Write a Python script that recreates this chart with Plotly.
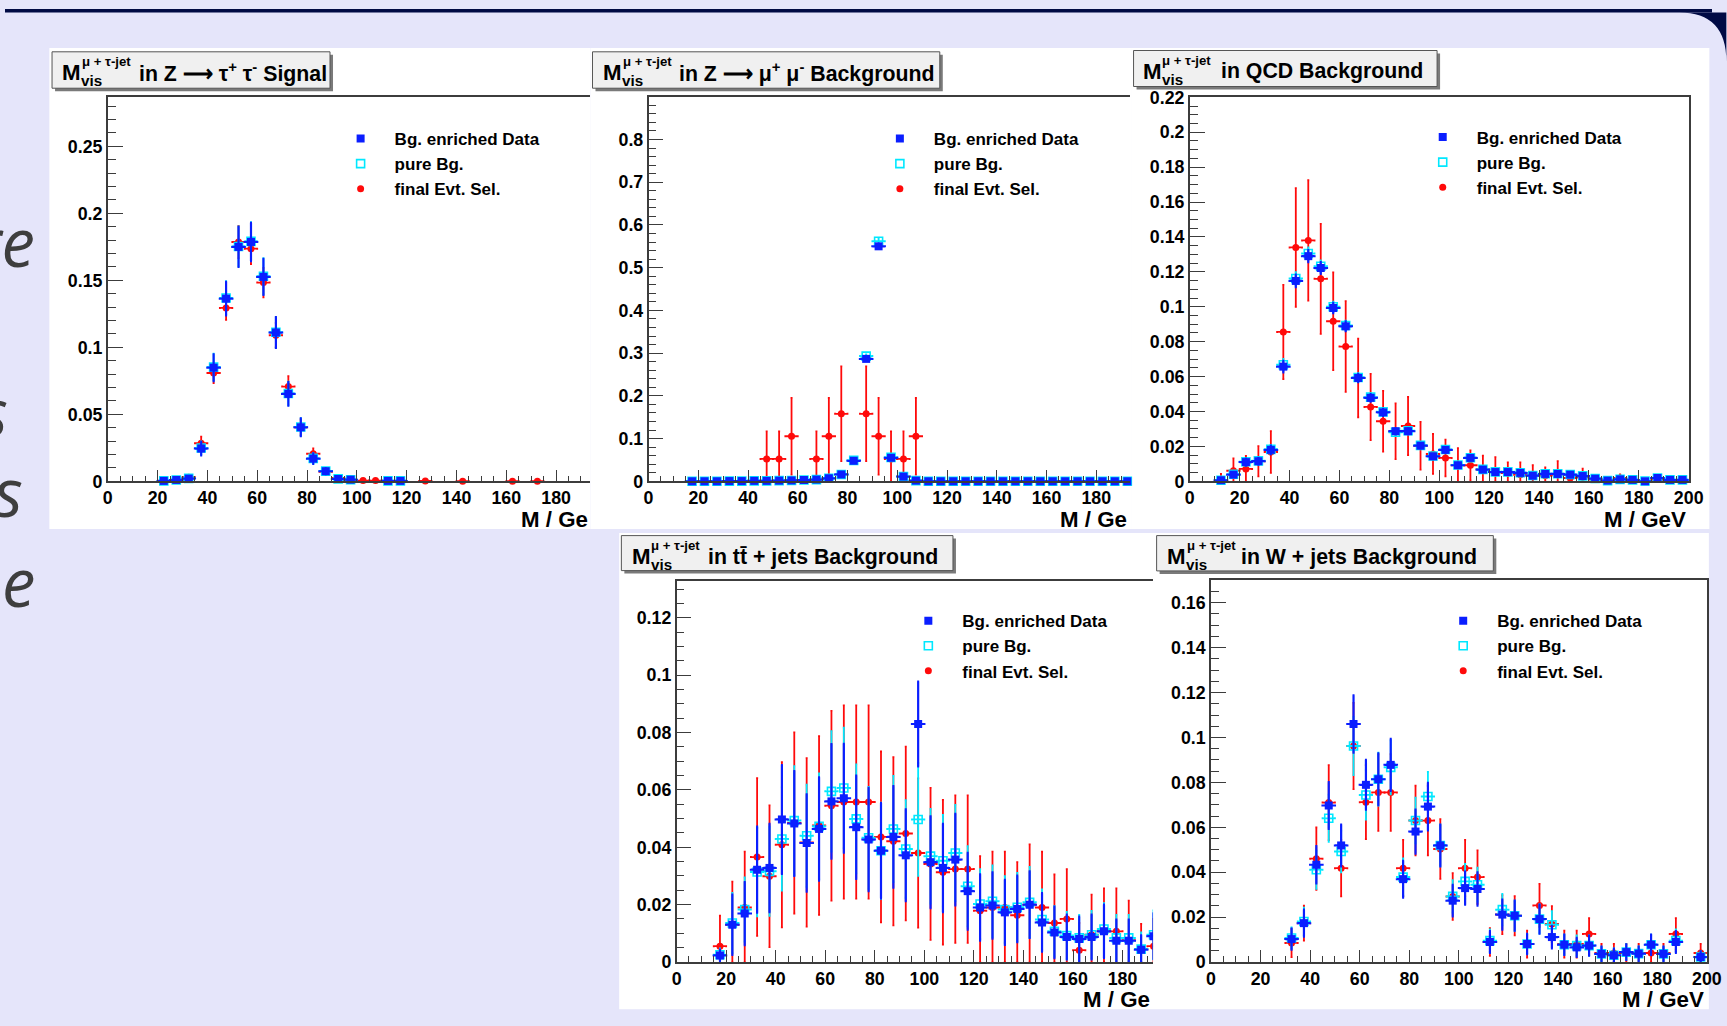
import plotly.graph_objects as go

W, H = 1727, 1026
FONT = "Liberation Sans, Arial, Helvetica, sans-serif"

# ---------------- data (normalised entries per 5 GeV bin) ----------------
LEGEND_NAMES = ["Bg. enriched Data", "pure Bg.", "final Evt. Sel."]
PANEL_TITLES = [
    "in Z ⟶ τ<sup>+</sup> τ<sup>-</sup> Signal",
    "in Z ⟶ μ<sup>+</sup> μ<sup>-</sup> Background",
    "in QCD Background",
    "in tt\u0304 + jets Background",
    "in W + jets Background",
]
XTITLE = "M / GeV"

# Z -> tau tau signal
ZTT_X = [22.5, 27.5, 32.5, 37.5, 42.5, 47.5, 52.5, 57.5, 62.5, 67.5, 72.5, 77.5,
         82.5, 87.5, 92.5, 97.5, 102.5, 107.5, 112.5, 117.5, 127.5, 142.5, 162.5, 172.5]
ZTT_DATA = [0.0003, 0.001, 0.002, 0.0244, 0.0848, 0.1363, 0.1749, 0.1786, 0.1525, 0.111, 0.0652, 0.0403,
            0.0169, 0.0075, 0.0017, 0.0012, None, None, 0.0003, 0.0003, None, None, None, None]
ZTT_DATA_ERR = [0.0003, 0.0006, 0.001, 0.005, 0.01, 0.0125, 0.015, 0.0143, 0.0135, 0.0115, 0.0088, 0.0066,
                0.004, 0.0022, 0.001, 0.0008, None, None, 0.0003, 0.0003, None, None, None, None]
ZTT_PURE = [0.0003, 0.001, 0.0022, 0.0248, 0.0852, 0.1368, 0.1752, 0.179, 0.153, 0.1112, 0.0655, 0.0405,
            0.0171, 0.0076, 0.0018, 0.0012, None, None, 0.0003, 0.0003, None, None, None, None]
ZTT_PURE_ERR = [0.0003, 0.0006, 0.001, 0.005, 0.01, 0.0125, 0.015, 0.0143, 0.0135, 0.0115, 0.0088, 0.0066,
                0.004, 0.0022, 0.001, 0.0008, None, None, 0.0003, 0.0003, None, None, None, None]
ZTT_SEL = [None, None, 0.003, 0.0284, 0.0808, 0.1294, 0.1786, 0.1736, 0.1483, 0.109, 0.0707, 0.0403,
           0.0206, 0.0072, 0.0025, 0.001, 0.0005, 0.0005, None, None, 0.0003, 0.0001, 0.0001, 0.0001]
ZTT_SEL_ERR = [None, None, 0.0015, 0.005, 0.0075, 0.009, 0.012, 0.0116, 0.011, 0.0093, 0.0077, 0.006,
               0.004, 0.0022, 0.0012, 0.0008, 0.0005, 0.0005, None, None, 0.0003, 0.0002, 0.0002, 0.0002]

# Z -> mu mu background
ZMM_X = [17.5, 22.5, 27.5, 32.5, 37.5, 42.5, 47.5, 52.5, 57.5, 62.5, 67.5, 72.5, 77.5, 82.5, 87.5, 92.5,
         97.5, 102.5, 107.5, 112.5, 117.5, 122.5, 127.5, 132.5, 137.5, 142.5, 147.5, 152.5, 157.5, 162.5,
         167.5, 172.5, 177.5, 182.5, 187.5, 192.5]
ZMM_DATA = [0, 0, 0, 0.0005, 0.0005, 0.001, 0.001, 0.0015, 0.002, 0.003, 0.004, 0.007, 0.016, 0.048, 0.2865, 0.55,
            0.055, 0.011, 0.0015, 0, 0, 0, 0, 0, 0, 0, 0, 0, 0, 0,
            0, 0, 0, 0, 0, 0]
ZMM_DATA_ERR = [0.0003, 0.0003, 0.0003, 0.0005, 0.0005, 0.0007, 0.0007, 0.0008, 0.001, 0.0012, 0.0014, 0.0018, 0.0027, 0.0047, 0.004, 0.006,
                0.005, 0.0022, 0.0008, 0.0003, 0.0003, 0.0003, 0.0003, 0.0003, 0.0003, 0.0003, 0.0003, 0.0003, 0.0003, 0.0003,
                0.0003, 0.0003, 0.0003, 0.0003, 0.0003, 0.0003]
ZMM_PURE = [0, 0, 0, 0.0005, 0.0005, 0.001, 0.001, 0.0015, 0.002, 0.003, 0.004, 0.007, 0.016, 0.049, 0.293, 0.562,
            0.056, 0.011, 0.0015, 0, 0, 0, 0, 0, 0, 0, 0, 0, 0, 0,
            0, 0, 0, 0, 0, 0]
ZMM_PURE_ERR = ZMM_DATA_ERR
ZMM_SEL = [None, None, None, None, None, None, 0.0523, 0.0523, 0.1054, None, 0.0523, 0.1054, 0.158, None, 0.158, 0.1054,
           0.0523, 0.0523, 0.1054, None, None, None, None, None, None, None, None, None, None, None,
           None, None, None, None, None, None]
ZMM_SEL_ERR = [None, None, None, None, None, None, 0.0647, 0.0647, 0.0896, None, 0.0647, 0.0896, 0.111, None, 0.111, 0.0896,
               0.0647, 0.0647, 0.0896, None, None, None, None, None, None, None, None, None, None, None,
               None, None, None, None, None, None]

# QCD background
QCD_X = [12.5, 17.5, 22.5, 27.5, 32.5, 37.5, 42.5, 47.5, 52.5, 57.5, 62.5, 67.5, 72.5, 77.5, 82.5, 87.5,
         92.5, 97.5, 102.5, 107.5, 112.5, 117.5, 122.5, 127.5, 132.5, 137.5, 142.5, 147.5, 152.5, 157.5,
         162.5, 167.5, 172.5, 177.5, 182.5, 187.5, 192.5, 197.5]
QCD_DATA = [0.0006, 0.0038, 0.011, 0.0115, 0.018, 0.0657, 0.1148, 0.129, 0.1222, 0.0993, 0.0888, 0.0592, 0.0478,
            0.0395, 0.0287, 0.0287, 0.0204, 0.0143, 0.018, 0.0092, 0.0134, 0.0067, 0.0053, 0.0053, 0.0048, 0.0032,
            0.0042, 0.0042, 0.0038, 0.003, 0.0015, 0.0004, 0.0011, 0.0008, 0.0, 0.0019, 0.0008, 0.0008]
QCD_DATA_ERR = [0.0004, 0.0012, 0.002, 0.002, 0.0025, 0.0033, 0.0036, 0.0035, 0.0034, 0.003, 0.0028, 0.0024, 0.0022,
                0.002, 0.0017, 0.0017, 0.0015, 0.0012, 0.0014, 0.001, 0.0012, 0.0009, 0.0008, 0.0008, 0.0008, 0.0006,
                0.0007, 0.0007, 0.0006, 0.0006, 0.0004, 0.0002, 0.0003, 0.0003, 0.0002, 0.0005, 0.0003, 0.0003]
QCD_PURE = [0.0006, 0.004, 0.0112, 0.0117, 0.0183, 0.0668, 0.1162, 0.1305, 0.1232, 0.1, 0.0893, 0.0595, 0.0482,
            0.0398, 0.0281, 0.029, 0.0206, 0.0145, 0.0182, 0.0093, 0.0135, 0.0068, 0.0054, 0.0054, 0.0049, 0.0033,
            0.0043, 0.0043, 0.0039, 0.0031, 0.0016, 0.0004, 0.0011, 0.0008, 0.0002, 0.0019, 0.0008, 0.0008]
QCD_PURE_ERR = QCD_DATA_ERR
QCD_SEL = [0.0003, 0.0061, 0.0071, 0.0115, 0.0168, 0.0856, 0.134, 0.138, 0.116, 0.0917, 0.0772, 0.0592, 0.0426,
           0.0344, 0.0287, 0.0317, 0.0204, 0.0157, 0.0134, 0.0092, 0.0092, 0.0067, 0.0053, 0.0048, 0.0038, 0.0032,
           0.0032, 0.0038, 0.0019, 0.0023, 0.001, None, 0.0019, None, None, 0.001, None, None]
QCD_SEL_ERR = [0.004, 0.007, 0.0075, 0.0087, 0.012, 0.027, 0.034, 0.0345, 0.0315, 0.028, 0.026, 0.0225, 0.019,
               0.0174, 0.016, 0.0167, 0.0137, 0.0115, 0.0105, 0.0098, 0.0085, 0.008, 0.0085, 0.006, 0.007, 0.006,
               0.0048, 0.0077, 0.003, 0.005, 0.0019, None, 0.002, None, None, 0.002, None, None]

# t tbar + jets background
TT_X = [17.5, 22.5, 27.5, 32.5, 37.5, 42.5, 47.5, 52.5, 57.5, 62.5, 67.5, 72.5, 77.5, 82.5, 87.5, 92.5,
        97.5, 102.5, 107.5, 112.5, 117.5, 122.5, 127.5, 132.5, 137.5, 142.5, 147.5, 152.5, 157.5, 162.5,
        167.5, 172.5, 177.5, 182.5, 187.5, 192.5]
TT_DATA = [0.0023, 0.013, 0.0169, 0.0322, 0.0328, 0.0497, 0.0483, 0.0415, 0.0464, 0.056,
           0.0571, 0.047, 0.0427, 0.0388, 0.0436, 0.0372, 0.083, 0.0348, 0.0328, 0.0357,
           0.0247, 0.019, 0.0197, 0.0173, 0.0185, 0.02, 0.0138, 0.0103, 0.0087, 0.008,
           0.0087, 0.0107, 0.0074, 0.0074, 0.0043, 0.009]
TT_DATA_ERR = [0.002, 0.0105, 0.011, 0.015, 0.0154, 0.019, 0.0183, 0.017, 0.018, 0.02,
               0.019, 0.018, 0.018, 0.0166, 0.0177, 0.016, 0.0148, 0.016, 0.0154, 0.016,
               0.0134, 0.0116, 0.0116, 0.0113, 0.0116, 0.0116, 0.0102, 0.009, 0.0078, 0.0078,
               0.0078, 0.0093, 0.0074, 0.0074, 0.005, 0.008]
TT_PURE = [0.0025, 0.0136, 0.0183, 0.0314, 0.0316, 0.0429, 0.0493, 0.044, 0.0473, 0.0595,
           0.0607, 0.0499, 0.0433, 0.0388, 0.0464, 0.0394, 0.0497, 0.0369, 0.0353, 0.038,
           0.0264, 0.0202, 0.0212, 0.0183, 0.0191, 0.0208, 0.0148, 0.0107, 0.0092, 0.0084,
           0.0095, 0.0115, 0.0084, 0.0084, 0.0045, 0.0095]
TT_PURE_ERR = [0.0022, 0.0105, 0.0112, 0.0155, 0.0155, 0.018, 0.019, 0.0178, 0.0185, 0.021,
               0.021, 0.019, 0.0178, 0.0168, 0.0185, 0.017, 0.0197, 0.0165, 0.016, 0.0168,
               0.014, 0.0122, 0.0125, 0.0116, 0.012, 0.0124, 0.0105, 0.0088, 0.0083, 0.008,
               0.0083, 0.009, 0.008, 0.008, 0.0058, 0.0085]
TT_SEL = [0.0055, 0.013, 0.019, 0.0366, 0.0299, 0.0409, 0.0485, 0.0417, 0.0476, 0.0545,
          0.0558, 0.0558, 0.0558, 0.0436, 0.0421, 0.0448, 0.038, 0.0342, 0.0313, 0.0324,
          0.0324, 0.0179, 0.019, 0.019, 0.0163, 0.02, 0.019, 0.0136, 0.015, 0.0041,
          0.0095, 0.0107, 0.0107, 0.0076, 0.0045, 0.0055]
TT_SEL_ERR = [0.0107, 0.015, 0.0195, 0.0275, 0.0247, 0.0288, 0.0316, 0.0294, 0.0312, 0.0331,
              0.0337, 0.0337, 0.0337, 0.0298, 0.0293, 0.0303, 0.026, 0.0265, 0.0252, 0.0257,
              0.0257, 0.019, 0.0195, 0.0195, 0.0185, 0.021, 0.0195, 0.0169, 0.0174, 0.0095,
              0.014, 0.015, 0.015, 0.0138, 0.0088, 0.0095]

# W + jets background
WJ_X = [32.5, 37.5, 42.5, 47.5, 52.5, 57.5, 62.5, 67.5, 72.5, 77.5, 82.5, 87.5, 92.5, 97.5, 102.5,
        107.5, 112.5, 117.5, 122.5, 127.5, 132.5, 137.5, 142.5, 147.5, 152.5, 157.5, 162.5, 167.5,
        172.5, 177.5, 182.5, 187.5, 192.5, 197.5]
WJ_DATA = [0.0102, 0.0173, 0.0433, 0.0697, 0.0519, 0.106, 0.0789, 0.0814, 0.0878, 0.0369,
           0.0581, 0.0692, 0.0519, 0.0273, 0.0329, 0.0325, 0.0089, 0.0211, 0.0206, 0.008,
           0.0191, 0.0111, 0.0077, 0.0065, 0.0073, 0.0036, 0.003, 0.0044, 0.0037, 0.0077,
           0.0036, 0.0089, None, 0.0022]
WJ_DATA_ERR = [0.0047, 0.006, 0.0083, 0.0104, 0.0093, 0.0128, 0.0111, 0.0115, 0.0116, 0.0082,
               0.0098, 0.0106, 0.0093, 0.007, 0.0074, 0.0074, 0.0048, 0.0067, 0.0067, 0.0045,
               0.0065, 0.005, 0.0045, 0.0042, 0.0045, 0.0032, 0.003, 0.0035, 0.0032, 0.0045,
               0.0032, 0.0048, None, 0.0025]
WJ_PURE = [0.0107, 0.018, 0.0411, 0.064, 0.0492, 0.0962, 0.0744, 0.0814, 0.0867, 0.0378,
           0.063, 0.0737, 0.0519, 0.0292, 0.0359, 0.0344, 0.0095, 0.0233, 0.0206, 0.008,
           0.0191, 0.0166, 0.0077, 0.0073, 0.0073, 0.0036, 0.003, 0.0044, 0.0037, 0.0077,
           0.0036, 0.0095, None, 0.0022]
WJ_PURE_ERR = [0.0047, 0.0062, 0.0085, 0.0105, 0.0093, 0.013, 0.011, 0.0118, 0.012, 0.0083,
               0.0102, 0.011, 0.0093, 0.0072, 0.0078, 0.0076, 0.005, 0.007, 0.0067, 0.0045,
               0.0065, 0.006, 0.0045, 0.0045, 0.0045, 0.0032, 0.003, 0.0035, 0.0032, 0.0045,
               0.0032, 0.005, None, 0.0025]
WJ_SEL = [0.0085, 0.0173, 0.046, 0.071, 0.0418, 0.0962, 0.0712, 0.0755, 0.0755, 0.0418,
          0.063, 0.063, 0.0503, 0.0292, 0.0418, 0.0378, 0.0089, 0.0211, 0.0206, 0.008,
          0.0252, 0.0169, 0.008, 0.008, 0.0125, 0.004, 0.004, 0.004, 0.004, 0.004,
          0.004, 0.0125, None, 0.004]
WJ_SEL_ERR = [0.0063, 0.0078, 0.0139, 0.0167, 0.0126, 0.0192, 0.0165, 0.0171, 0.0171, 0.0126,
              0.0155, 0.0155, 0.0133, 0.0104, 0.0126, 0.0119, 0.0062, 0.0087, 0.0087, 0.006,
              0.0096, 0.008, 0.006, 0.006, 0.007, 0.004, 0.004, 0.004, 0.004, 0.004,
              0.004, 0.007, None, 0.004]

# ---------------- layout helpers ----------------
# screen position = S * figure pixel + C (measured page placement); map target pixels back to paper coords
SX, CX = 0.9896, 3.6
SY, CY = 0.9813, 9.5


def fx(p):
    return ((p - CX) / SX) / W


def fy(p):
    return 1 - ((p - CY) / SY) / H


BLUE, CYAN, RED = "#0a1eff", "#00e8ff", "#ff0a0a"
LAVENDER, NAVY = "#e5e5fa", "#000a44"

panels = [
    dict(x=ZTT_X, d=(ZTT_DATA, ZTT_DATA_ERR), p=(ZTT_PURE, ZTT_PURE_ERR), s=(ZTT_SEL, ZTT_SEL_ERR),
         white=(48, 48.5, 590, 529.5), dom=(106.5, 589.5, 97.7, 481.7), xmax=193.7, ymax=0.2866,
         dt=0.05, mdt=0.01, full=False, clip=False, leg=(359.6, 138),
         box=(50.7, 52.3, 332, 91.7), ml=61.4, tl=138.2, yc=73.4, xt=(589, 520, "M / Ge")),
    dict(x=ZMM_X, d=(ZMM_DATA, ZMM_DATA_ERR), p=(ZMM_PURE, ZMM_PURE_ERR), s=(ZMM_SEL, ZMM_SEL_ERR),
         white=(590, 48.5, 1131, 529.5), dom=(647.9, 1130, 97.7, 481.7), xmax=193.6, ymax=0.899,
         dt=0.1, mdt=0.02, full=False, clip=False, leg=(899.5, 138),
         box=(591.8, 52.3, 942.5, 91.7), ml=603.3, tl=679.4, yc=73.4, xt=(1129, 520, "M / Ge")),
    dict(x=QCD_X, d=(QCD_DATA, QCD_DATA_ERR), p=(QCD_PURE, QCD_PURE_ERR), s=(QCD_SEL, QCD_SEL_ERR),
         white=(1131, 48.5, 1710, 529.5), dom=(1189.8, 1689.3, 97.3, 481.7), xmax=200, ymax=0.2203,
         dt=0.02, mdt=0.005, full=True, clip=False, leg=(1443, 136.5),
         box=(1133.5, 51, 1440.4, 90), ml=1143.3, tl=1221.4, yc=71.7, xt=(1689, 520, XTITLE)),
    dict(x=TT_X, d=(TT_DATA, TT_DATA_ERR), p=(TT_PURE, TT_PURE_ERR), s=(TT_SEL, TT_SEL_ERR),
         white=(618.5, 533.5, 1154, 1009.5), dom=(676, 1153, 581, 962.3), xmax=192.3, ymax=0.133,
         dt=0.02, mdt=0.005, full=False, clip=True, leg=(928, 620),
         box=(620.7, 536, 955.7, 574), ml=631.4, tl=708, yc=557.3, xt=(1152, 1000, "M / Ge")),
    dict(x=WJ_X, d=(WJ_DATA, WJ_DATA_ERR), p=(WJ_PURE, WJ_PURE_ERR), s=(WJ_SEL, WJ_SEL_ERR),
         white=(1154, 533.5, 1709.5, 1009.5), dom=(1211, 1707.5, 580.7, 962.3), xmax=200, ymax=0.17,
         dt=0.02, mdt=0.005, full=True, clip=False, leg=(1463.5, 620),
         box=(1156.6, 536, 1496.7, 574.3), ml=1167.7, tl=1242, yc=557.3, xt=(1707, 1000, XTITLE)),
]

fig = go.Figure()
shapes = []
annotations = []
layout_axes = {}
legends = {}

AX = "#3c3c3c"

# slide background: navy top band with a rounded corner at the right
shapes.append(dict(type="rect", xref="paper", yref="paper", x0=0, x1=1, y0=fy(13), y1=1,
                   fillcolor=NAVY, line=dict(width=0), layer="below"))
shapes.append(dict(type="path", xref="paper", yref="paper",
                   path=(f"M {fx(1680)},{fy(13)} Q {fx(1727)},{fy(13)} {fx(1727)},{fy(62)} "
                         f"L {fx(1727)},{fy(13)} Z"),
                   fillcolor=NAVY, line=dict(width=0), layer="below"))

for txt, right, yc in [("re", 36, 241), ("s", 9, 411), ("s", 24, 491), ("e", 36, 581)]:
    annotations.append(dict(text=txt, xref="paper", yref="paper", x=fx(right), y=fy(yc),
                            xanchor="right", yanchor="middle", showarrow=False,
                            font=dict(family="Open Sans, sans-serif", size=67, color="#3e3e3e", style="italic")))

for i, P in enumerate(panels):
    n = i + 1
    xa = "x" if n == 1 else f"x{n}"
    ya = "y" if n == 1 else f"y{n}"
    lg = "legend" if n == 1 else f"legend{n}"

    wx0, wy0, wx1, wy1 = P["white"]
    shapes.append(dict(type="rect", xref="paper", yref="paper", x0=fx(wx0), x1=fx(wx1), y0=fy(wy1), y1=fy(wy0),
                       fillcolor="white", line=dict(width=0), layer="below"))

    series = [
        (LEGEND_NAMES[2], P["s"], RED, "circle", 7, 3, 1.8),
        (LEGEND_NAMES[1], P["p"], CYAN, "square-open", 8, 2, 1.8),
        (LEGEND_NAMES[0], P["d"], BLUE, "square", 8, 1, 2.2),
    ]
    for name, (vals, errs), col, sym, size, rank, th in series:
        lower = [None if (v is None or e is None) else min(e, v) for v, e in zip(vals, errs)]
        fig.add_trace(go.Scatter(
            x=P["x"], y=vals, mode="markers", name=name, legend=lg, legendrank=rank,
            xaxis=xa, yaxis=ya, cliponaxis=P["clip"],
            marker=dict(symbol=sym, size=size, color=col,
                        line=dict(width=1.6 if sym == "square-open" else 0, color=col)),
            error_x=dict(type="constant", value=2.5, color=col, thickness=th, width=1),
            error_y=dict(type="data", array=errs, arrayminus=lower, symmetric=False,
                         color=col, thickness=th, width=1),
            hoverinfo="x+y",
        ))

    dx0, dx1, dy0, dy1 = P["dom"]
    tickfont = dict(family=FONT, size=17.8, color="black", weight="bold")
    layout_axes["xaxis" if n == 1 else f"xaxis{n}"] = dict(
        domain=[fx(dx0), fx(dx1)], range=[0, P["xmax"]], anchor=ya,
        tick0=0, dtick=20, ticks="inside", ticklen=12, tickwidth=1, tickcolor=AX,
        showline=True, linecolor=AX, linewidth=1.5, mirror=True,
        showgrid=False, zeroline=False, tickfont=tickfont,
        minor=dict(dtick=5, tick0=0, ticks="inside", ticklen=6, tickwidth=1, tickcolor=AX, showgrid=False),
        fixedrange=True,
    )
    layout_axes["yaxis" if n == 1 else f"yaxis{n}"] = dict(
        domain=[fy(dy1), fy(dy0)], range=[0, P["ymax"]], anchor=xa,
        tick0=0, dtick=P["dt"], ticks="inside", ticklen=15, tickwidth=1, tickcolor=AX,
        showline=True, linecolor=AX, linewidth=1.5, mirror=P["full"],
        showgrid=False, zeroline=False, tickfont=tickfont,
        minor=dict(dtick=P["mdt"], tick0=0, ticks="inside", ticklen=8, tickwidth=1, tickcolor=AX, showgrid=False),
        fixedrange=True,
    )

    lx, ly = P["leg"]
    legends[lg] = dict(x=fx(lx - 34), y=fy(ly - 16.5), xanchor="left", yanchor="top",
                       bgcolor="rgba(0,0,0,0)", borderwidth=0, tracegroupgap=0,
                       traceorder="normal", itemwidth=58,
                       font=dict(family=FONT, size=17, color="black", weight="bold"))

    # title box with shadow
    bx0, by0, bx1, by1 = P["box"]
    shapes.append(dict(type="rect", xref="paper", yref="paper", x0=fx(bx0 + 3), x1=fx(bx1), y0=fy(by1), y1=fy(by0 + 3),
                       fillcolor="#7a7a7a", line=dict(width=0), layer="above"))
    shapes.append(dict(type="rect", xref="paper", yref="paper", x0=fx(bx0), x1=fx(bx1 - 3), y0=fy(by1 - 3), y1=fy(by0),
                       fillcolor="#f0f0f0", line=dict(width=1, color="#555555"), layer="above"))
    yc = P["yc"]
    ml = P["ml"]
    annotations += [
        dict(text="M", x=fx(ml - 2.5), y=fy(yc), font=dict(family=FONT, size=22.3, color="black", weight="bold")),
        dict(text="μ + τ-jet", x=fx(ml + 17), y=fy(yc - 11), font=dict(family=FONT, size=13.2, color="black", weight="bold")),
        dict(text="vis", x=fx(ml + 16.5), y=fy(yc + 8), font=dict(family=FONT, size=15.2, color="black", weight="bold")),
        dict(text=PANEL_TITLES[i], x=fx(P["tl"] - 2.5), y=fy(yc), font=dict(family=FONT, size=21.3, color="black", weight="bold")),
    ]
    for a in annotations[-4:]:
        a.update(xref="paper", yref="paper", xanchor="left", yanchor="middle", showarrow=False)

    tx, ty, ttext = P["xt"]
    annotations.append(dict(text=ttext, xref="paper", yref="paper", x=fx(tx), y=fy(ty),
                            xanchor="right", yanchor="middle", showarrow=False,
                            font=dict(family=FONT, size=22.3, color="black", weight="bold")))

fig.update_layout(
    width=W, height=H, margin=dict(l=0, r=0, t=0, b=0),
    paper_bgcolor=LAVENDER, plot_bgcolor="white",
    shapes=shapes, annotations=annotations, **layout_axes, **legends,
    showlegend=True,
)

fig.write_html("out.html", config={"displayModeBar": False})
